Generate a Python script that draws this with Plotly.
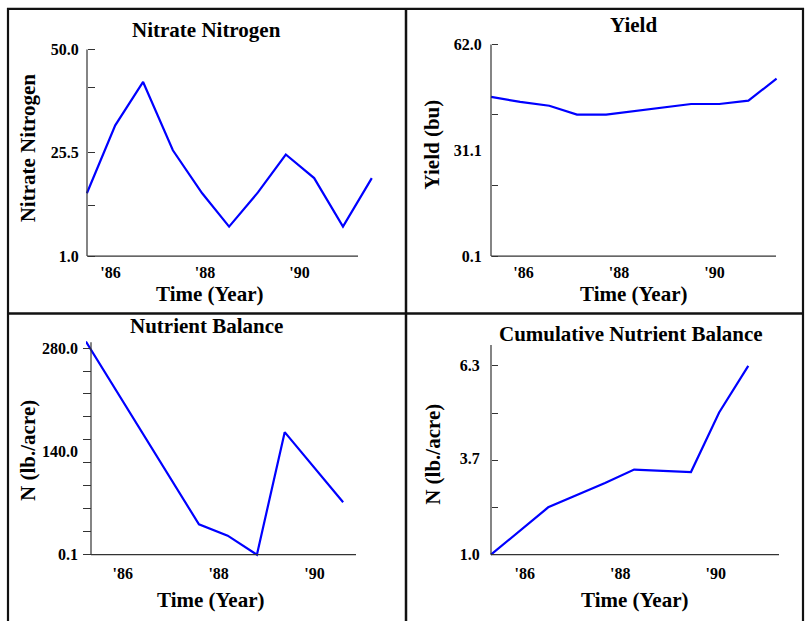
import plotly.graph_objects as go

W, H = 805, 621
SERIF = "Liberation Serif"
LINE_BLUE = "#0000ff"
AXIS_GREY = "#333333"

# ---------------- data ----------------
year_ticks = [1986, 1988, 1990]
year_labels = ["'86", "'88", "'90"]

nitrate_years = [1985.50, 1986.10, 1986.69, 1987.32, 1987.94, 1988.51,
                 1989.12, 1989.71, 1990.31, 1990.92, 1991.53]
nitrate_values = [15.9, 32.0, 42.3, 26.1, 15.9, 8.0, 16.1, 25.1, 19.5, 8.0, 19.5]

yield_years = [1985.32, 1985.93, 1986.54, 1987.12, 1987.73,
               1989.51, 1990.10, 1990.71, 1991.30]
yield_values = [46.7, 45.2, 44.1, 41.5, 41.5, 44.6, 44.6, 45.6, 52.0]

balance_years = [1985.23, 1987.59, 1988.19, 1988.80, 1989.38, 1990.60]
balance_values = [288.9, 41.2, 25.9, 0.1, 166.1, 71.1]

cumulative_years = [1985.29, 1986.49, 1987.68, 1988.29, 1989.48, 1990.07, 1990.68]
cumulative_values = [1.0, 2.33, 3.01, 3.39, 3.32, 4.99, 6.3]

# y-axis labels and tick marks per panel
nitrate_labels = [1.0, 25.5, 50.0]
nitrate_marks = [1.0, 13.0, 25.5, 41.1, 50.0]
yield_labels = [0.1, 31.05, 62.0]
yield_label_text = ["0.1", "31.1", "62.0"]
yield_marks = [0.1, 20.7, 41.4, 62.0]
balance_labels = [0.1, 140.0, 280.0]
balance_marks = [0.1 + k * (279.9 / 9) for k in range(10)]
cumulative_labels = [1.0, 3.7, 6.3]
cumulative_marks = [1.0, 2.325, 3.65, 4.975, 6.3]

# ---------------- panel geometry (pixels) ----------------
panels = [
    dict(years=nitrate_years, values=nitrate_values,
         title="Nitrate Nitrogen", title_xy=(207, 27),
         ytitle="Nitrate Nitrogen", ytitle_xy=(28, 147), xtitle_xy=(210, 293),
         left=87, right=358, top=47, bottom=256, x86=110.5, ppy=47.25,
         yref=((256, 1.0), (47, 50.0)),
         labels=nitrate_labels, label_text=["1.0", "25.5", "50.0"],
         marks=nitrate_marks, tickdir="inside", ticklen=7, standoff=5, xstandoff=2),
    dict(years=yield_years, values=yield_values,
         title="Yield", title_xy=(633, 22),
         ytitle="Yield (bu)", ytitle_xy=(432, 143), xtitle_xy=(634, 293),
         left=491, right=776, top=42, bottom=256, x86=523.5, ppy=47.75,
         yref=((256, 0.1), (42, 62.0)),
         labels=yield_labels, label_text=yield_label_text,
         marks=yield_marks, tickdir="inside", ticklen=6, standoff=6, xstandoff=2),
    dict(years=balance_years, values=balance_values,
         title="Nutrient Balance", title_xy=(207, 327),
         ytitle="N (lb./acre)", ytitle_xy=(28, 453), xtitle_xy=(211, 603),
         left=91, right=356, top=343, bottom=558, x86=122.8, ppy=47.9,
         yref=((558, 0.1), (349, 280.0)),
         labels=balance_labels, label_text=["0.1", "140.0", "280.0"],
         marks=balance_marks, tickdir="outside", ticklen=8, standoff=13, xstandoff=4),
    dict(years=cumulative_years, values=cumulative_values,
         title="Cumulative Nutrient Balance", title_xy=(631, 335),
         ytitle="N (lb./acre)", ytitle_xy=(433, 457), xtitle_xy=(635, 603),
         left=491, right=779, top=346, bottom=558, x86=524.8, ppy=47.75,
         yref=((558, 1.0), (367, 6.3)),
         labels=cumulative_labels, label_text=["1.0", "3.7", "6.3"],
         marks=cumulative_marks, tickdir="inside", ticklen=6, standoff=8, xstandoff=4),
]

fig = go.Figure()
shapes = []
annotations = []
PAD = 5


def px_to_paper_x(px):
    return px / W


def px_to_paper_y(py):
    return 1 - py / H


for i, p in enumerate(panels, start=1):
    xa = "xaxis" if i == 1 else f"xaxis{i}"
    ya = "yaxis" if i == 1 else f"yaxis{i}"
    xr = "x" if i == 1 else f"x{i}"
    yr = "y" if i == 1 else f"y{i}"

    def x_val(px, p=p):
        return 1986 + (px - p["x86"]) / p["ppy"]

    (pa, va), (pb, vb) = p["yref"]

    def y_val(py, pa=pa, va=va, pb=pb, vb=vb):
        return va + (py - pa) * (vb - va) / (pb - pa)

    def y_px(v, pa=pa, va=va, pb=pb, vb=vb):
        return pa + (v - va) * (pb - pa) / (vb - va)

    last_px = p["x86"] + (max(p["years"]) - 1986) * p["ppy"]
    top_px = min(p["top"], y_px(max(p["values"])))
    box_l = p["left"] - PAD
    box_r = max(p["right"], last_px) + PAD
    box_t = top_px - PAD
    box_b = p["bottom"] + PAD

    fig.add_trace(go.Scatter(
        x=p["years"], y=p["values"], mode="lines",
        line=dict(color=LINE_BLUE, width=2.2),
        xaxis=xr, yaxis=yr, hoverinfo="skip", showlegend=False))

    tickfont = dict(family=SERIF, size=16, color="black", weight="bold")

    fig.update_layout(**{
        xa: dict(domain=[px_to_paper_x(box_l), px_to_paper_x(box_r)],
                 range=[x_val(box_l), x_val(box_r)],
                 anchor="free", position=px_to_paper_y(p["bottom"]),
                 tickmode="array", tickvals=year_ticks, ticktext=year_labels,
                 ticks="outside", ticklen=0, ticklabelstandoff=p["xstandoff"],
                 showline=False, showgrid=False, zeroline=False,
                 tickfont=tickfont),
        ya: dict(domain=[px_to_paper_y(box_b), px_to_paper_y(box_t)],
                 range=[y_val(box_b), y_val(box_t)],
                 anchor="free", position=px_to_paper_x(p["left"]),
                 tickmode="array", tickvals=p["labels"], ticktext=p["label_text"],
                 ticks="outside" if p["tickdir"] == "inside" else "inside",
                 ticklen=0, ticklabelstandoff=p["standoff"],
                 minor=dict(tickmode="array", tickvals=p["marks"],
                            ticks=p["tickdir"], ticklen=p["ticklen"],
                            tickwidth=1, tickcolor=AXIS_GREY, showgrid=False),
                 showline=False, showgrid=False, zeroline=False,
                 tickfont=tickfont),
    })

    # axis lines
    shapes.append(dict(type="line", xref="paper", yref="paper",
                       x0=px_to_paper_x(p["left"]), x1=px_to_paper_x(p["left"]),
                       y0=px_to_paper_y(p["top"]), y1=px_to_paper_y(p["bottom"]),
                       line=dict(color=AXIS_GREY, width=1.2)))
    shapes.append(dict(type="line", xref="paper", yref="paper",
                       x0=px_to_paper_x(p["left"]), x1=px_to_paper_x(p["right"]),
                       y0=px_to_paper_y(p["bottom"]), y1=px_to_paper_y(p["bottom"]),
                       line=dict(color=AXIS_GREY, width=1.2)))

    title_font = dict(family=SERIF, size=21, color="black", weight="bold")
    tx, ty = p["title_xy"]
    annotations.append(dict(text=p["title"], x=px_to_paper_x(tx), y=px_to_paper_y(ty),
                            xref="paper", yref="paper", showarrow=False,
                            xanchor="center", yanchor="middle", font=title_font))
    yx, yy = p["ytitle_xy"]
    annotations.append(dict(text=p["ytitle"], x=px_to_paper_x(yx), y=px_to_paper_y(yy),
                            xref="paper", yref="paper", showarrow=False, textangle=-90,
                            xanchor="center", yanchor="middle", font=title_font))
    ax_, ay_ = p["xtitle_xy"]
    annotations.append(dict(text="Time (Year)", x=px_to_paper_x(ax_), y=px_to_paper_y(ay_ + 1),
                            xref="paper", yref="paper", showarrow=False,
                            xanchor="center", yanchor="middle", font=title_font))

# frame around the four panels and the dividers between them
FRAME = "#111111"
shapes.append(dict(type="rect", xref="paper", yref="paper",
                   x0=px_to_paper_x(8), x1=px_to_paper_x(803),
                   y0=px_to_paper_y(628), y1=px_to_paper_y(6),
                   line=dict(color=FRAME, width=2.2)))
shapes.append(dict(type="line", xref="paper", yref="paper",
                   x0=px_to_paper_x(406), x1=px_to_paper_x(406),
                   y0=px_to_paper_y(628), y1=px_to_paper_y(6),
                   line=dict(color=FRAME, width=2.5)))
shapes.append(dict(type="line", xref="paper", yref="paper",
                   x0=px_to_paper_x(8), x1=px_to_paper_x(803),
                   y0=px_to_paper_y(314), y1=px_to_paper_y(314),
                   line=dict(color=FRAME, width=2.5)))

fig.update_layout(
    width=W, height=H,
    margin=dict(l=0, r=0, t=0, b=0),
    paper_bgcolor="white", plot_bgcolor="white",
    shapes=shapes, annotations=annotations,
    showlegend=False,
)

fig.write_html("out.html")
